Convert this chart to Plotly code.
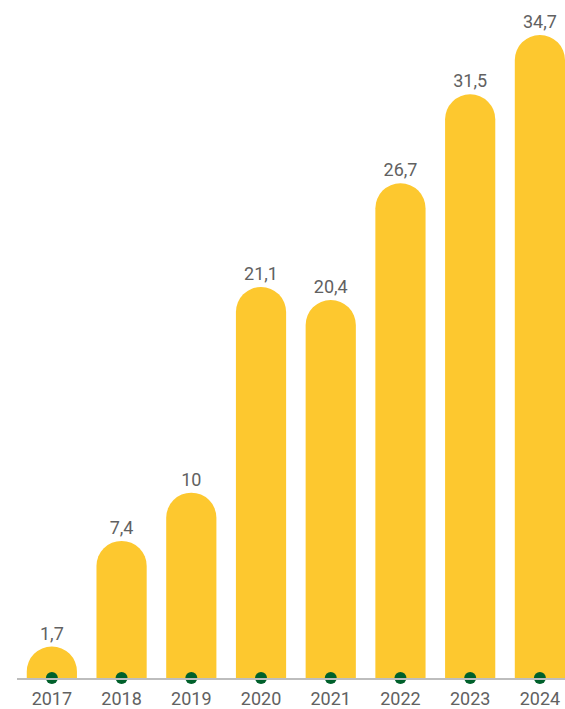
import plotly.graph_objects as go

years = ["2017", "2018", "2019", "2020", "2021", "2022", "2023", "2024"]
values = [1.7, 7.4, 10, 21.1, 20.4, 26.7, 31.5, 34.7]
labels = [f"{v:g}".replace(".", ",") for v in values]

BAR = "#FDC82F"
GREEN = "#00602B"
GREY = "#616161"

fig = go.Figure()
fig.add_trace(go.Bar(
    x=years, y=values, marker=dict(color=BAR, line=dict(width=0)),
    text=labels, textposition="outside", cliponaxis=False,
    textfont=dict(family="Roboto", size=18, color=GREY),
    hoverinfo="skip",
))
fig.add_trace(go.Scatter(
    x=years, y=[0] * len(years), mode="markers", cliponaxis=False,
    marker=dict(color=GREEN, size=12, line=dict(width=0)),
    hoverinfo="skip",
))
fig.update_layout(
    width=565, height=709,
    margin=dict(l=17, r=0, t=0, b=31),
    paper_bgcolor="white", plot_bgcolor="white",
    showlegend=False,
    bargap=0.28,
    barcornerradius="50%",
    font=dict(family="Roboto", size=18, color=GREY),
    xaxis=dict(
        type="category", range=[-0.5, 7.36],
        showgrid=False, zeroline=False, automargin=False,
        showline=True, linecolor="#BDBDBD", linewidth=2,
        ticks="outside", ticklen=3, tickcolor="rgba(0,0,0,0)",
        tickfont=dict(family="Roboto", size=18, color=GREY),
    ),
    yaxis=dict(range=[0, 36.59], visible=False, automargin=False),
)
fig.write_html("out.html", config={"displayModeBar": False},
               post_script="document.body.style.margin='0';")
